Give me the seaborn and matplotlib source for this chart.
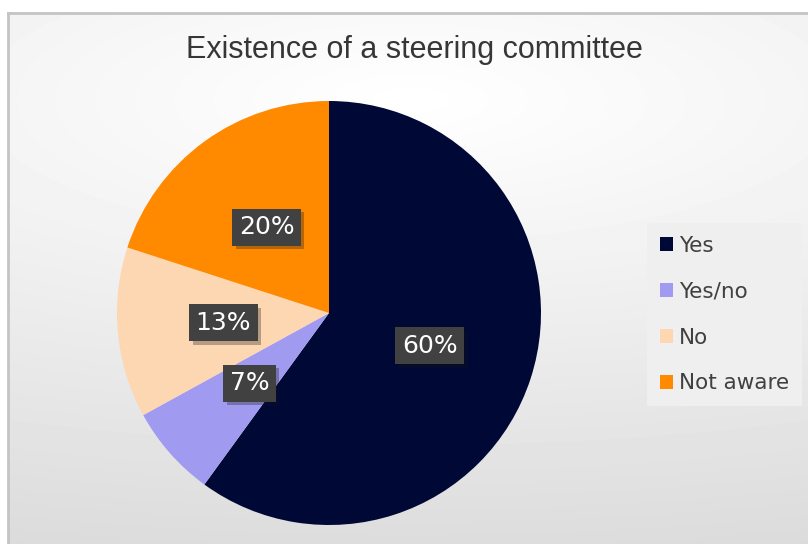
import numpy as np
import matplotlib
matplotlib.use("Agg")
import matplotlib.pyplot as plt
import matplotlib.patheffects as pe
import seaborn as sns

# Survey responses
categories = ["Yes", "Yes/no", "No", "Not aware"]
shares = [60, 7, 13, 20]
colors = ["#000835", "#A09AF0", "#FDD6B2", "#FF8A00"]
title = "Existence of a steering committee"

sns.set_theme(style="white")
plt.rcParams["font.family"] = ["DejaVu Sans"]

W, H = 808, 544
fig = plt.figure(figsize=(W / 100, H / 100), dpi=100, facecolor="white")

# Chart area with soft radial shading
bg_left, bg_top = 8, 13
bg = fig.add_axes([bg_left / W, 0, (W - bg_left) / W, (H - bg_top) / H])
yy, xx = np.mgrid[bg_top:H, bg_left:W]
dist = np.sqrt(((xx - 410) * 0.0253) ** 2 + ((yy - 100) * 0.078) ** 2)
shade = np.clip(255 - dist, 214, 255) / 255.0
bg.imshow(shade, cmap="gray", vmin=0, vmax=1, aspect="auto",
          extent=[0, 1, 0, 1], interpolation="bilinear")
bg.set_xticks([])
bg.set_yticks([])
for side in ["right", "bottom"]:
    bg.spines[side].set_visible(False)
for side in ["left", "top"]:
    bg.spines[side].set_color("#C4C4C4")
    bg.spines[side].set_linewidth(2)

# Pie
cx, cy, r = 329, 313, 212
ax = fig.add_axes([(cx - r) / W, (H - cy - r) / H, 2 * r / W, 2 * r / H])
ax.set_facecolor("none")
wedges, _, autotexts = ax.pie(
    shares, colors=sns.color_palette(colors), startangle=90, counterclock=False,
    autopct="%d%%", pctdistance=0.5, radius=1,
    wedgeprops=dict(linewidth=0),
)
ax.set_xlim(-1, 1)
ax.set_ylim(-1, 1)
ax.set_aspect("equal")
ax.axis("off")

for t in autotexts:
    t.set_color("white")
    t.set_fontsize(18)
    t.set_bbox(dict(boxstyle="square,pad=0.26", facecolor="#414141",
                    edgecolor="none", linewidth=0))
    t.get_bbox_patch().set_path_effects(
        [pe.SimplePatchShadow(offset=(2.5, -2.5), alpha=0.3), pe.Normal()])

# Title
fig.text(414 / W, 1 - 50 / H, title, ha="center", va="center",
         fontsize=22, color="#363636", family=["Liberation Sans", "DejaVu Sans"])

# Legend
leg = fig.legend(
    wedges, categories, loc="upper left",
    bbox_to_anchor=(647 / W, 1 - 223 / H), frameon=True,
    fontsize=15.5, labelcolor="#404040", handlelength=0.6, handleheight=0.6,
    handletextpad=0.3, labelspacing=1.2, borderpad=0.6, borderaxespad=0,
)
frame = leg.get_frame()
frame.set_facecolor("#EFEFEF")
frame.set_edgecolor("none")
frame.set_alpha(1)
frame.set_boxstyle("square,pad=0")

fig.savefig("out.png", dpi=100, facecolor="white")
